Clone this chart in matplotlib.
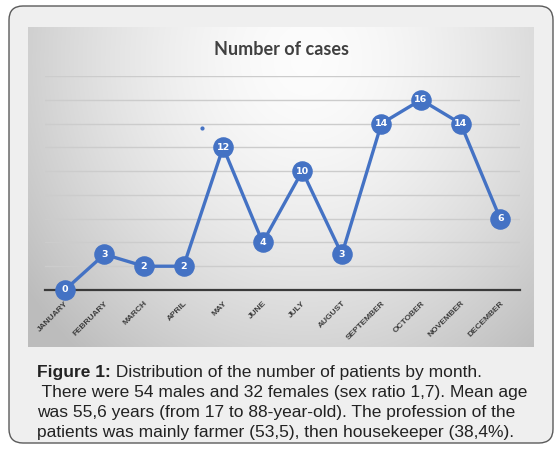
import numpy as np
import matplotlib
matplotlib.use("Agg")
import matplotlib.pyplot as plt
from matplotlib.patches import FancyBboxPatch

months = ["JANUARY", "FEBRUARY", "MARCH", "APRIL", "MAY", "JUNE", "JULY",
          "AUGUST", "SEPTEMBER", "OCTOBER", "NOVEMBER", "DECEMBER"]
cases = [0, 3, 2, 2, 12, 4, 10, 3, 14, 16, 14, 6]
stray_x = [3.46]
stray_y = [13.6]
title = "Number of cases"
caption_bold = "Figure 1:"
caption_lines = [
    " Distribution of the number of patients by month.",
    " There were 54 males and 32 females (sex ratio 1,7). Mean age",
    "was 55,6 years (from 17 to 88-year-old). The profession of the",
    "patients was mainly farmer (53,5), then housekeeper (38,4%).",
]

W, H = 559, 454
fig = plt.figure(figsize=(W / 100, H / 100), dpi=100)
fig.patch.set_facecolor("white")

def fx(px):
    return px / W

def fy(py):
    return 1 - py / H

# outer rounded frame
frame = FancyBboxPatch((fx(9), fy(443)), fx(553) - fx(9), fy(6) - fy(443),
                       boxstyle="round,pad=0,rounding_size=0.025",
                       transform=fig.transFigure, facecolor="#efefef",
                       edgecolor="#5a5a5a", linewidth=1.0, mutation_aspect=W / H,
                       zorder=-10)
fig.patches.append(frame)

# gradient chart background
gax = fig.add_axes([fx(28), fy(347), fx(534) - fx(28), fy(27) - fy(347)])
gx = np.linspace(0, 1, 300)
gy = np.linspace(0, 1, 200)
X, Y = np.meshgrid(gx, gy)
d = np.sqrt(((X - 0.55) / 0.6) ** 2 + ((Y - 0.1) / 1.05) ** 2)
val = np.clip(0.99 - 0.2 * d ** 1.6, 0.74, 1.0)
gax.imshow(np.dstack([val, val, val]), aspect="auto", extent=[0, 1, 1, 0],
           interpolation="bilinear")
gax.set_axis_off()

# plot axes
ax = fig.add_axes([fx(45), fy(290), fx(520) - fx(45), fy(76) - fy(290)])
ax.patch.set_alpha(0)
x = np.arange(len(months))
ax.set_xlim(-0.5, len(months) - 0.5)
ax.set_ylim(0, 18)
ax.set_yticks(np.arange(0, 19, 2))
ax.yaxis.grid(True, color="#cccccc", linewidth=1.0)
ax.set_axisbelow(True)
for s in ["top", "right", "left"]:
    ax.spines[s].set_visible(False)
ax.spines["bottom"].set_color("#3a3a3a")
ax.spines["bottom"].set_linewidth(1.6)
ax.tick_params(axis="y", left=False, labelleft=False)
ax.tick_params(axis="x", bottom=False, pad=3.5)
ax.set_xticks(x)
ax.set_xticklabels(months, rotation=45, ha="right", va="top",
                   rotation_mode="anchor", fontsize=6.0, fontweight="bold",
                   color="#3c3c3c",
                   fontfamily=["Liberation Sans Narrow", "Liberation Sans", "DejaVu Sans"])

blue = "#4472c4"
ax.plot(x, cases, color=blue, linewidth=2.4, marker="o", markersize=13.8,
        markerfacecolor=blue, markeredgecolor=blue, clip_on=False, zorder=3)
for xi, v in zip(x, cases):
    ax.text(xi, v, str(v), color="white", fontsize=6.8, fontweight="bold",
            ha="center", va="center", zorder=4, family="DejaVu Sans")
ax.plot(stray_x, stray_y, "o", color=blue, markersize=2, zorder=3)

fig.text(fx(281), fy(55), title, ha="center", va="baseline", fontsize=13,
         fontweight="bold", color="#404040", family=["Lato", "DejaVu Sans"])

# caption
cap_font = ["Liberation Sans", "DejaVu Sans"]
cfs = 12.5
ys = [376.7, 396.7, 416.7, 436.5]
t = fig.text(fx(37), fy(ys[0]), caption_bold, ha="left", va="baseline",
             fontsize=cfs, fontweight="bold", color="#222222", family=cap_font)
fig.canvas.draw()
bb = t.get_window_extent()
fig.text(bb.x1 / W, fy(ys[0]), caption_lines[0], ha="left", va="baseline",
         fontsize=cfs, color="#222222", family=cap_font)
for i in range(1, 4):
    fig.text(fx(37), fy(ys[i]), caption_lines[i], ha="left", va="baseline",
             fontsize=cfs, color="#222222", family=cap_font)

fig.savefig("out.png", dpi=100)
